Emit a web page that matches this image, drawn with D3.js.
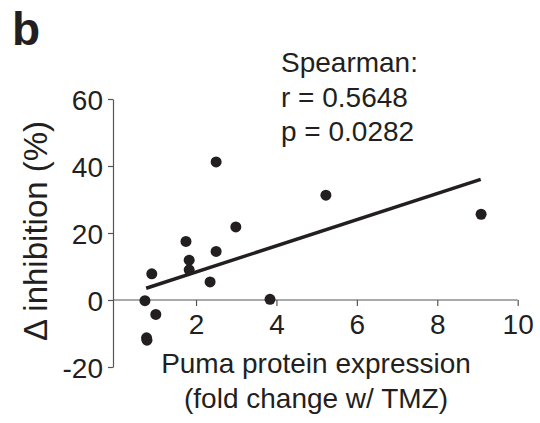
<!DOCTYPE html>
<html><head><meta charset="utf-8">
<script src="https://cdn.jsdelivr.net/npm/d3@7"></script>
<style>body{margin:0;background:#fff}svg{display:block}text{font-family:"Liberation Sans",Arial,sans-serif;fill:#231f20}</style>
</head><body>
<svg id="c" width="540" height="423"></svg>
<script>
const pumaX = [0.73, 1.0, 0.77, 0.78, 0.90, 1.75, 1.83, 1.83, 2.35, 2.5, 2.5, 2.99, 3.84, 5.23, 9.09];
const inhibY = [-0.2, -4.3, -11.3, -12.0, 7.8, 17.5, 11.9, 9.0, 5.4, 14.5, 41.2, 21.8, 0.2, 31.3, 25.6];
const fitX = [0.76, 9.08];
const fitY = [3.5, 36.0];
const xTicks = [2, 4, 6, 8, 10];
const yTicks = [-20, 0, 20, 40, 60];
const statLines = ["Spearman:", "r = 0.5648", "p = 0.0282"];

const svg = d3.select("#c");
const x = d3.scaleLinear().domain([0, 10]).range([115.6, 517.7]);
const y = d3.scaleLinear().domain([-20, 60]).range([367, 99]);
const axisColor = "#555";

// y axis
const ya = svg.append("g").attr("transform", "translate(113,0)")
  .call(d3.axisLeft(y).tickValues(yTicks).tickFormat(d => String(d)).tickSize(5).tickPadding(5).tickSizeOuter(0));
ya.select(".domain").attr("stroke", axisColor).attr("stroke-width", 1.2);
ya.selectAll(".tick line").attr("stroke", axisColor).attr("stroke-width", 1.2);
ya.selectAll(".tick text").attr("font-size", 28).attr("font-family", "Liberation Sans, Arial, sans-serif").attr("fill", "#231f20").attr("dy", "0.36em");

// x axis at y=0
const xa = svg.append("g").attr("transform", `translate(0,${y(0)})`)
  .call(d3.axisBottom(x).tickValues(xTicks).tickFormat(d => String(d)).tickSize(6).tickPadding(8).tickSizeOuter(0));
xa.select(".domain").attr("d", `M113,0H${x(10)}`).attr("stroke", axisColor).attr("stroke-width", 1.2);
xa.selectAll(".tick line").attr("stroke", axisColor).attr("stroke-width", 1.2);
xa.selectAll(".tick text").attr("font-size", 28).attr("font-family", "Liberation Sans, Arial, sans-serif").attr("fill", "#231f20").attr("dy", "0.72em");

// fit line
svg.append("line")
  .attr("x1", x(fitX[0])).attr("y1", y(fitY[0]))
  .attr("x2", x(fitX[1])).attr("y2", y(fitY[1]))
  .attr("stroke", "#231f20").attr("stroke-width", 3.5);

// points
svg.append("g").selectAll("circle").data(pumaX.map((v, i) => [v, inhibY[i]])).join("circle")
  .attr("cx", d => x(d[0])).attr("cy", d => y(d[1])).attr("r", 5.5).attr("fill", "#231f20");

// stats text
svg.append("g").selectAll("text").data(statLines).join("text")
  .attr("x", 281).attr("y", (d, i) => 72 + i * 34.5).attr("font-size", 28).text(d => d);

// panel label
svg.append("text").attr("x", 12).attr("y", 45).attr("font-size", 46).attr("font-weight", "bold").text("b");

// axis titles
svg.append("text").attr("text-anchor", "middle").attr("x", 316).attr("y", 373).attr("font-size", 28).text("Puma protein expression");
svg.append("text").attr("text-anchor", "middle").attr("x", 316).attr("y", 408).attr("font-size", 28).text("(fold change w/ TMZ)");
svg.append("text").attr("text-anchor", "middle").attr("transform", "translate(47,231) rotate(-90)").attr("font-size", 33).text("Δ inhibition (%)");
</script>
</body></html>
